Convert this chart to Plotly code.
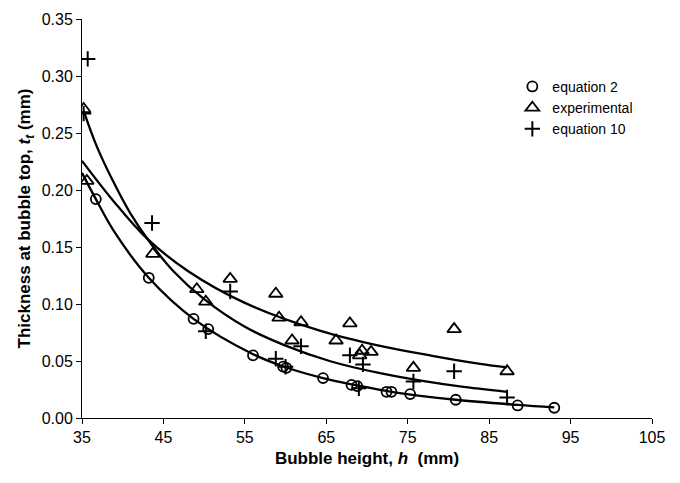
import plotly.graph_objects as go

# equation 2 (circles)
eq2_h = [36.7, 43.2, 48.7, 50.5, 56.0, 59.7, 60.1, 64.6, 68.1, 68.8, 72.4, 73.0, 75.3, 80.9, 88.5, 93.0]
eq2_t = [0.192, 0.123, 0.087, 0.078, 0.055, 0.045, 0.044, 0.035, 0.029, 0.028, 0.023, 0.023, 0.021, 0.016, 0.011, 0.009]

# experimental (triangles)
exp_h = [35.2, 35.6, 43.7, 49.1, 50.2, 53.2, 58.8, 59.2, 61.9, 60.8, 66.2, 67.9, 69.1, 69.4, 70.5, 75.7, 80.7, 87.2]
exp_t = [0.271, 0.208, 0.144, 0.113, 0.102, 0.122, 0.109, 0.088, 0.084, 0.068, 0.068, 0.083, 0.055, 0.059, 0.058, 0.044, 0.078, 0.041]

# equation 10 (plus)
eq10_h = [35.7, 35.2, 43.6, 50.2, 53.2, 58.8, 60.0, 61.9, 67.9, 69.5, 69.0, 75.7, 80.7, 87.2]
eq10_t = [0.315, 0.267, 0.171, 0.076, 0.111, 0.052, 0.045, 0.063, 0.055, 0.047, 0.026, 0.032, 0.041, 0.018]

# trend curves
trend_eq2_h = [35.0, 36.7, 39.0, 43.2, 48.7, 56.0, 60.0, 64.6, 68.5, 73.0, 80.9, 88.5, 93.0]
trend_eq2_t = [0.215, 0.192, 0.163, 0.123, 0.087, 0.056, 0.0445, 0.035, 0.029, 0.023, 0.016, 0.0115, 0.0093]

trend_exp_h = [35.0, 38.9, 42.9, 48.0, 55.0, 64.4, 71.6, 78.0, 83.9, 87.2]
trend_exp_t = [0.2256, 0.190, 0.158, 0.129, 0.101, 0.0762, 0.0633, 0.0546, 0.0475, 0.0444]

trend_eq10_h = [35.2, 36.8, 38.9, 40.9, 43.4, 46.2, 50.0, 55.0, 60.0, 65.5, 71.6, 77.0, 81.4, 87.2]
trend_eq10_t = [0.2694, 0.2385, 0.2065, 0.180, 0.1535, 0.129, 0.1042, 0.0800, 0.0635, 0.0498, 0.0393, 0.0323, 0.0277, 0.0230]

x_ticks = [35, 45, 55, 65, 75, 85, 95, 105]
y_ticks = [0.00, 0.05, 0.10, 0.15, 0.20, 0.25, 0.30, 0.35]

FONT = "Liberation Sans, Arial, sans-serif"

fig = go.Figure()

for h, t in [(trend_eq2_h, trend_eq2_t), (trend_exp_h, trend_exp_t), (trend_eq10_h, trend_eq10_t)]:
    fig.add_trace(go.Scatter(x=h, y=t, mode="lines",
                             line=dict(color="black", width=2.3, shape="spline", smoothing=1.0),
                             showlegend=False, hoverinfo="skip"))

fig.add_trace(go.Scatter(x=eq2_h, y=eq2_t, mode="markers", name="equation 2",
                         marker=dict(symbol="circle-open", size=10, color="black", line=dict(width=1.8))))
fig.add_trace(go.Scatter(x=exp_h, y=exp_t, mode="markers", name="experimental",
                         marker=dict(symbol="triangle-up-open", size=12, color="black", line=dict(width=1.8))))
fig.add_trace(go.Scatter(x=eq10_h, y=eq10_t, mode="markers", name="equation 10",
                         marker=dict(symbol="cross-thin-open", size=11, color="black", line=dict(width=2))))

fig.update_layout(
    width=680, height=483,
    margin=dict(l=82, r=28, t=11, b=65),
    paper_bgcolor="white", plot_bgcolor="white",
    font=dict(family=FONT, size=16, color="black"),
    legend=dict(x=0.755, y=0.87, xanchor="left", yanchor="top", bgcolor="rgba(0,0,0,0)",
                font=dict(size=14), itemwidth=30, tracegroupgap=0),
    xaxis=dict(range=[35, 105], tickvals=x_ticks, ticktext=[str(v) for v in x_ticks],
               showgrid=False, zeroline=False, showline=True, linecolor="black", linewidth=1,
               ticks="outside", ticklen=5, tickcolor="black", tickfont=dict(size=16),
               title=dict(text="<b>Bubble height, <i>h</i>  (mm)</b>", font=dict(size=17), standoff=6)),
    yaxis=dict(range=[0, 0.35], tickvals=y_ticks, ticktext=["%.2f" % v for v in y_ticks],
               showgrid=False, zeroline=False, showline=True, linecolor="black", linewidth=1,
               ticks="outside", ticklen=5, tickcolor="black", tickfont=dict(size=16),
               title=dict(text="<b>Thickness at bubble top, <i>t<sub>t</sub></i> (mm)</b>", font=dict(size=17), standoff=6)),
)

fig.write_html("out.html")
